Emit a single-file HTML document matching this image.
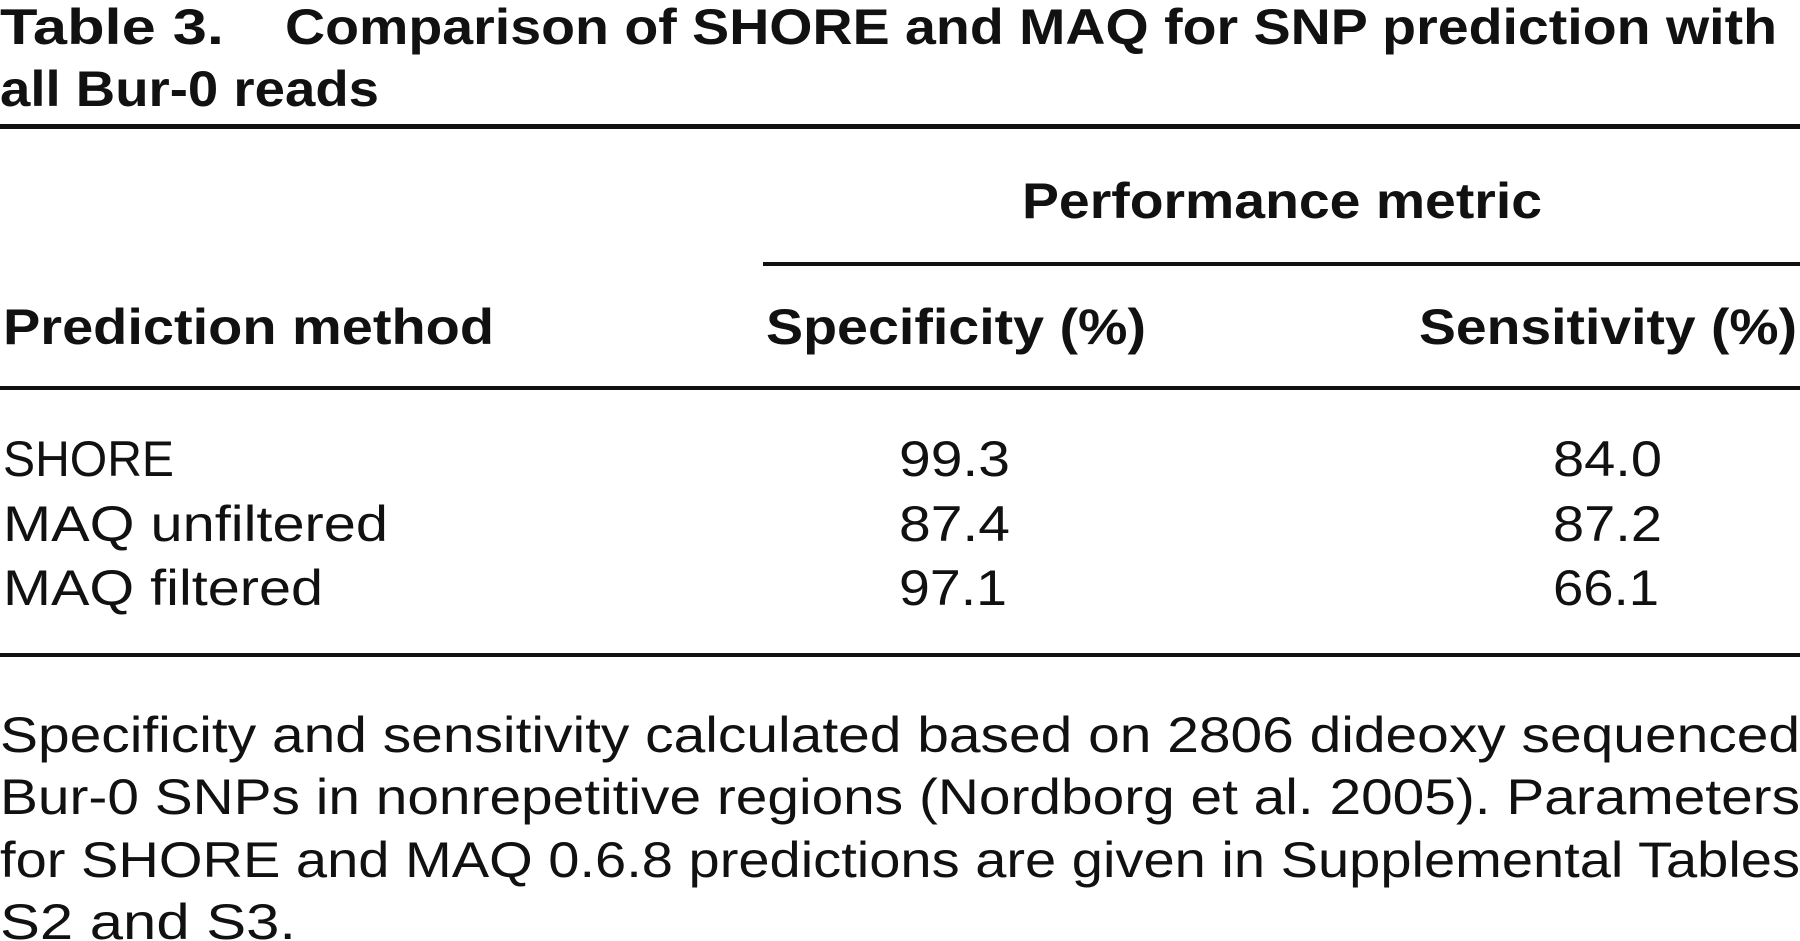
<!DOCTYPE html>
<html><head><meta charset="utf-8"><style>
html,body{margin:0;padding:0;background:#fff;width:1800px;height:941px;overflow:hidden}
svg{display:block}
text{font-family:"Liberation Sans",sans-serif;fill:#111}
.b{font-weight:bold}
</style></head><body>
<svg width="1800" height="941" viewBox="0 0 1800 941">
<g>
<text class="b" x="0" y="44" font-size="50" textLength="224" lengthAdjust="spacingAndGlyphs">Table 3.</text>
<text class="b" x="285" y="44" font-size="50" textLength="1492" lengthAdjust="spacingAndGlyphs">Comparison of SHORE and MAQ for SNP prediction with</text>
<text class="b" x="0" y="106" font-size="50" textLength="379" lengthAdjust="spacingAndGlyphs">all Bur-0 reads</text>
</g>
<rect x="0" y="124" width="1800" height="5" fill="#111"/>
<text class="b" x="1022" y="218" font-size="50" textLength="520" lengthAdjust="spacingAndGlyphs">Performance metric</text>
<rect x="763" y="262" width="1037" height="4" fill="#111"/>
<text class="b" x="3" y="344" font-size="50" textLength="491" lengthAdjust="spacingAndGlyphs">Prediction method</text>
<text class="b" x="766" y="344" font-size="50" textLength="380" lengthAdjust="spacingAndGlyphs">Specificity (%)</text>
<text class="b" x="1419" y="344" font-size="50" textLength="378" lengthAdjust="spacingAndGlyphs">Sensitivity (%)</text>
<rect x="0" y="386" width="1800" height="4" fill="#111"/>
<g>
<text x="3" y="476" font-size="50" textLength="171" lengthAdjust="spacingAndGlyphs">SHORE</text>
<text x="899" y="476" font-size="50" textLength="111" lengthAdjust="spacingAndGlyphs">99.3</text>
<text x="1553" y="476" font-size="50" textLength="109" lengthAdjust="spacingAndGlyphs">84.0</text>
</g>
<g>
<text x="3" y="541" font-size="50" textLength="385" lengthAdjust="spacingAndGlyphs">MAQ unfiltered</text>
<text x="899" y="541" font-size="50" textLength="111" lengthAdjust="spacingAndGlyphs">87.4</text>
<text x="1553" y="541" font-size="50" textLength="109" lengthAdjust="spacingAndGlyphs">87.2</text>
</g>
<g>
<text x="3" y="605" font-size="50" textLength="320" lengthAdjust="spacingAndGlyphs">MAQ filtered</text>
<text x="899" y="605" font-size="50" textLength="108" lengthAdjust="spacingAndGlyphs">97.1</text>
<text x="1553" y="605" font-size="50" textLength="106" lengthAdjust="spacingAndGlyphs">66.1</text>
</g>
<rect x="0" y="653" width="1800" height="4" fill="#111"/>
<g>
<text x="0" y="752" font-size="50" textLength="1800" lengthAdjust="spacingAndGlyphs">Specificity and sensitivity calculated based on 2806 dideoxy sequenced</text>
<text x="0" y="814" font-size="50" textLength="1800" lengthAdjust="spacingAndGlyphs">Bur-0 SNPs in nonrepetitive regions (Nordborg et al. 2005). Parameters</text>
<text x="0" y="877" font-size="50" textLength="1800" lengthAdjust="spacingAndGlyphs">for SHORE and MAQ 0.6.8 predictions are given in Supplemental Tables</text>
<text x="0" y="939" font-size="50" textLength="296" lengthAdjust="spacingAndGlyphs">S2 and S3.</text>
</g>
</svg>
</body></html>
